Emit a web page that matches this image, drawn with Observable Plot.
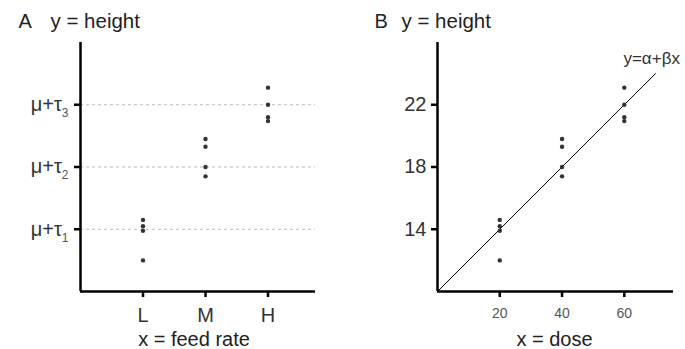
<!DOCTYPE html>
<html>
<head>
<meta charset="utf-8">
<script src="https://cdn.jsdelivr.net/npm/d3@7"></script>
<script src="https://cdn.jsdelivr.net/npm/@observablehq/plot@0.6"></script>
<style>
  html, body { margin: 0; padding: 0; background: #fff; }
  #wrap { display: flex; width: 685px; height: 349px; font-family: "Liberation Sans", Arial, sans-serif; }
  svg { overflow: visible; }
</style>
</head>
<body>
<div id="wrap"></div>
<script>
// ---- data ----
const feedRates = ["L", "M", "H"];
const doses = [20, 40, 60];
const heightsL = [14.6, 14.2, 13.9, 12.0];
const heightsM = [19.8, 19.3, 18.0, 17.4];
const heightsH = [23.1, 22.0, 21.2, 20.95];
const groupMeans = [14, 18, 22];          // mu + tau_i
const yTicksB = [14, 18, 22];
const alpha = 10, beta = 0.2;             // y = alpha + beta x
const lineXRange = [0, 70];
const yDomain = [10, 26];

const groups = [heightsL, heightsM, heightsH];
const rowsA = groups.flatMap((hs, i) => hs.map(h => ({x: i + 1, y: h})));
const rowsB = groups.flatMap((hs, i) => hs.map(h => ({x: doses[i], y: h})));
const fitLine = lineXRange.map(x => ({x, y: alpha + beta * x}));

const FONT = "Liberation Sans, Arial, sans-serif";
const ink = "#333";

// ---- Panel A ----
const plotA = Plot.plot({
  width: 342, height: 349,
  marginLeft: 80, marginRight: 27, marginTop: 42, marginBottom: 58,
  style: {fontFamily: FONT, background: "white", overflow: "visible"},
  x: {domain: [0, 3.76], axis: null},
  y: {domain: yDomain, axis: null},
  marks: [
    Plot.ruleY(groupMeans, {stroke: "#b8b8b8", strokeDasharray: "3,3", strokeWidth: 1}),
    Plot.ruleX([0], {stroke: "black", strokeWidth: 2.5}),
    Plot.ruleY([yDomain[0]], {stroke: "black", strokeWidth: 2.5}),
    Plot.axisY({ticks: groupMeans, tickSize: 6, tickPadding: 6, strokeWidth: 2.5, stroke: "black", fill: ink, fontSize: 20,
      tickFormat: d => "μ+τ" + ((d - 14) / 4 + 1), label: null}),
    Plot.axisX({ticks: [1, 2, 3], tickSize: 6, tickPadding: 10, strokeWidth: 2.5, stroke: "black", fill: ink, fontSize: 20,
      tickFormat: d => feedRates[d - 1], label: null}),
    Plot.dot(rowsA, {x: "x", y: "y", r: 2.2, fill: ink, stroke: "none"}),
    Plot.text(["A"], {frameAnchor: "top-left", dx: -62, dy: -15, lineAnchor: "bottom", textAnchor: "start", fontSize: 20, fill: "#222"}),
    Plot.text(["y = height"], {frameAnchor: "top-left", dx: -30, dy: -15, lineAnchor: "bottom", textAnchor: "start", fontSize: 20.5, fill: "#222"}),
    Plot.text(["x = feed rate"], {frameAnchor: "bottom", dx: -4, dy: 54, lineAnchor: "bottom", fontSize: 20, fill: "#222"})
  ]
});
// subscripts for mu+tau labels
d3.select(plotA).selectAll('g[aria-label="y-axis tick label"] text').each(function() {
  const t = this.textContent;
  const sub = t.slice(-1);
  this.textContent = t.slice(0, -1);
  d3.select(this).append("tspan").attr("dy", "6").attr("font-size", 12).attr("fill", "#555").text(sub);
});

// ---- Panel B ----
const plotB = Plot.plot({
  width: 343, height: 349,
  marginLeft: 95, marginRight: 12, marginTop: 42, marginBottom: 58,
  style: {fontFamily: FONT, background: "white", overflow: "visible"},
  x: {domain: [0, 75.8], axis: null},
  y: {domain: yDomain, axis: null},
  marks: [
    Plot.ruleX([0], {stroke: "black", strokeWidth: 2.5}),
    Plot.ruleY([yDomain[0]], {stroke: "black", strokeWidth: 2.5}),
    Plot.axisY({ticks: yTicksB, tickSize: 6, tickPadding: 5, strokeWidth: 2.5, stroke: "black", fill: ink, fontSize: 20, label: null}),
    Plot.axisX({ticks: doses, tickSize: 6, tickPadding: 11, strokeWidth: 2.5, stroke: "black", fill: "#555", fontSize: 14, label: null}),
    Plot.line(fitLine, {x: "x", y: "y", stroke: "black", strokeWidth: 1}),
    Plot.dot(rowsB, {x: "x", y: "y", r: 2.2, fill: ink, stroke: "none"}),
    Plot.text([fitLine[1]], {x: "x", y: "y", text: () => "y=α+βx", dx: -32, dy: -10, lineAnchor: "bottom", textAnchor: "start", fontSize: 17, fill: ink}),
    Plot.text(["B"], {frameAnchor: "top-left", dx: -63, dy: -15, lineAnchor: "bottom", textAnchor: "start", fontSize: 20, fill: "#222"}),
    Plot.text(["y = height"], {frameAnchor: "top-left", dx: -36, dy: -15, lineAnchor: "bottom", textAnchor: "start", fontSize: 20.5, fill: "#222"}),
    Plot.text(["x = dose"], {frameAnchor: "bottom", dx: -1, dy: 54, lineAnchor: "bottom", fontSize: 20, fill: "#222"})
  ]
});

const wrap = document.getElementById("wrap");
wrap.appendChild(plotA);
wrap.appendChild(plotB);
</script>
</body>
</html>
